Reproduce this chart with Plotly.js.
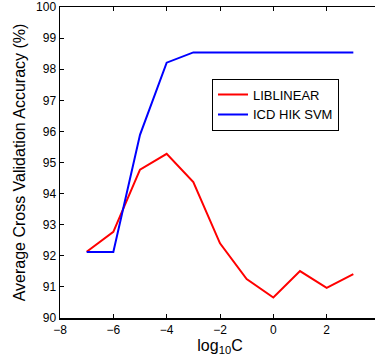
<!DOCTYPE html>
<html>
<head>
<meta charset="utf-8">
<script src="https://cdn.plot.ly/plotly-3.0.1.min.js"></script>
<style>
html,body{margin:0;padding:0;overflow:hidden;background:#fff;width:375px;height:360px;}
#chart{width:385px;height:360px;}
</style>
</head>
<body>
<div id="chart"></div>
<script>
var logC = [-7, -6, -5, -4, -3, -2, -1, 0, 1, 2, 3];
var liblinear = [92.13, 92.77, 94.77, 95.28, 94.37, 92.4, 91.25, 90.66, 91.51, 90.97, 91.41];
var icdHik = [92.12, 92.12, 95.89, 98.21, 98.54, 98.54, 98.54, 98.56, 98.55, 98.54, 98.54];
var seriesNames = ['LIBLINEAR', 'ICD HIK SVM'];
var xTicks = [-8, -6, -4, -2, 0, 2];

var traces = [
  {x: logC, y: liblinear, name: seriesNames[0], mode: 'lines', line: {color: '#ff0000', width: 2}},
  {x: logC, y: icdHik, name: seriesNames[1], mode: 'lines', line: {color: '#0000ff', width: 2}}
];

var fam = 'Liberation Sans, Arial, sans-serif';
var fnt = {family: fam, size: 12, color: '#000'};
var layout = {
  width: 385, height: 360,
  margin: {l: 60, r: 5, t: 7, b: 42},
  paper_bgcolor: '#fff', plot_bgcolor: '#fff',
  font: fnt,
  showlegend: true,
  legend: {x: 0.475, y: 0.77, xanchor: 'left', yanchor: 'top', bgcolor: '#fff', bordercolor: '#000', borderwidth: 1,
           font: {family: fam, size: 13, color: '#000'}, tracegroupgap: 0},
  xaxis: {
    range: [-8, 4], tickvals: xTicks, showgrid: false, zeroline: false,
    showline: true, linecolor: '#000', linewidth: 1.5, mirror: 'ticks',
    ticks: 'inside', ticklen: 4, tickcolor: '#000', tickwidth: 1,
    tickfont: fnt,
    title: {text: 'log<sub>10</sub>C', font: {family: fam, size: 16, color: '#000'}, standoff: 0}
  },
  yaxis: {
    range: [90, 100], dtick: 1, showgrid: false, zeroline: false,
    showline: true, linecolor: '#000', linewidth: 1.5, mirror: 'ticks',
    ticks: 'inside', ticklen: 4, tickcolor: '#000', tickwidth: 1,
    tickfont: fnt,
    title: {text: 'Average Cross Validation Accuracy (%)', font: {family: fam, size: 16, color: '#000'}, standoff: 6}
  }
};

Plotly.newPlot('chart', traces, layout, {displayModeBar: false, staticPlot: true});
</script>
</body>
</html>
